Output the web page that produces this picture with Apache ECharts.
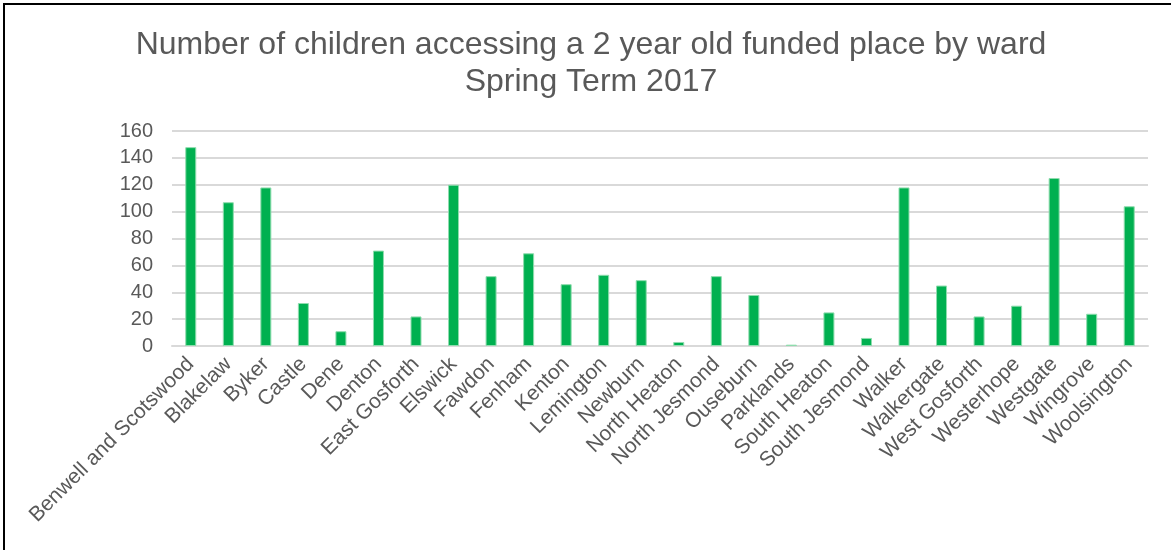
<!DOCTYPE html>
<html>
<head>
<meta charset="utf-8">
<script src="https://cdn.jsdelivr.net/npm/echarts@6/dist/echarts.min.js"></script>
<style>
  html, body { margin: 0; padding: 0; background: #ffffff; }
  #chart { width: 1171px; height: 550px; }
</style>
</head>
<body>
<div id="chart"></div>
<script>
// Wards of Newcastle, in chart order
const wards = [
  'Benwell and Scotswood', 'Blakelaw', 'Byker', 'Castle', 'Dene', 'Denton',
  'East Gosforth', 'Elswick', 'Fawdon', 'Fenham', 'Kenton', 'Lemington',
  'Newburn', 'North Heaton', 'North Jesmond', 'Ouseburn', 'Parklands',
  'South Heaton', 'South Jesmond', 'Walker', 'Walkergate', 'West Gosforth',
  'Westerhope', 'Westgate', 'Wingrove', 'Woolsington'
];

// Children accessing a 2 year old funded place, per ward
const children = [
  148, 107, 118, 32, 11, 71,
  22, 120, 52, 69, 46, 53,
  49, 3, 52, 38, 1,
  25, 6, 118, 45, 22,
  30, 125, 24, 104
];

// Value axis ticks
const yMin = 0;
const yMax = 160;
const yStep = 20;

const titleLines = [
  'Number of children accessing a 2 year old funded place by ward',
  'Spring Term 2017'
];

const FONT = '"Liberation Sans", Arial, sans-serif';
const TEXT = '#595959';

const chart = echarts.init(document.getElementById('chart'), null, { renderer: 'canvas' });

chart.setOption({
  backgroundColor: '#ffffff',
  animation: false,
  title: {
    text: titleLines.join('\n'),
    left: 586,
    textAlign: 'center',
    top: 22,
    textStyle: {
      fontFamily: FONT,
      fontSize: 32,
      fontWeight: 'normal',
      color: TEXT,
      lineHeight: 37
    }
  },
  graphic: [
    // chart frame (top and left edges)
    { type: 'line', shape: { x1: 3, y1: 4, x2: 1171, y2: 4 }, style: { stroke: '#000', lineWidth: 2 } },
    { type: 'line', shape: { x1: 4, y1: 3, x2: 4, y2: 550 }, style: { stroke: '#000', lineWidth: 2 } }
  ],
  grid: {
    left: 172,
    right: 23,
    top: 131,
    bottom: 204,
    containLabel: false
  },
  xAxis: {
    type: 'category',
    data: wards,
    axisLine: { show: true, lineStyle: { color: '#d9d9d9', width: 2 } },
    axisTick: { show: false },
    axisLabel: {
      interval: 0,
      rotate: 45,
      margin: 15,
      fontFamily: FONT,
      fontSize: 21,
      color: TEXT
    }
  },
  yAxis: {
    type: 'value',
    min: yMin,
    max: yMax,
    interval: yStep,
    axisLine: { show: false },
    axisTick: { show: false },
    splitLine: { lineStyle: { color: '#d9d9d9', width: 2 } },
    axisLabel: {
      margin: 19,
      fontFamily: FONT,
      fontSize: 20,
      color: TEXT
    }
  },
  series: [{
    type: 'bar',
    data: children,
    barWidth: 11,
    itemStyle: {
      color: '#00B050',
      borderColor: '#8fdcae',
      borderWidth: 1
    }
  }]
});
</script>
</body>
</html>
